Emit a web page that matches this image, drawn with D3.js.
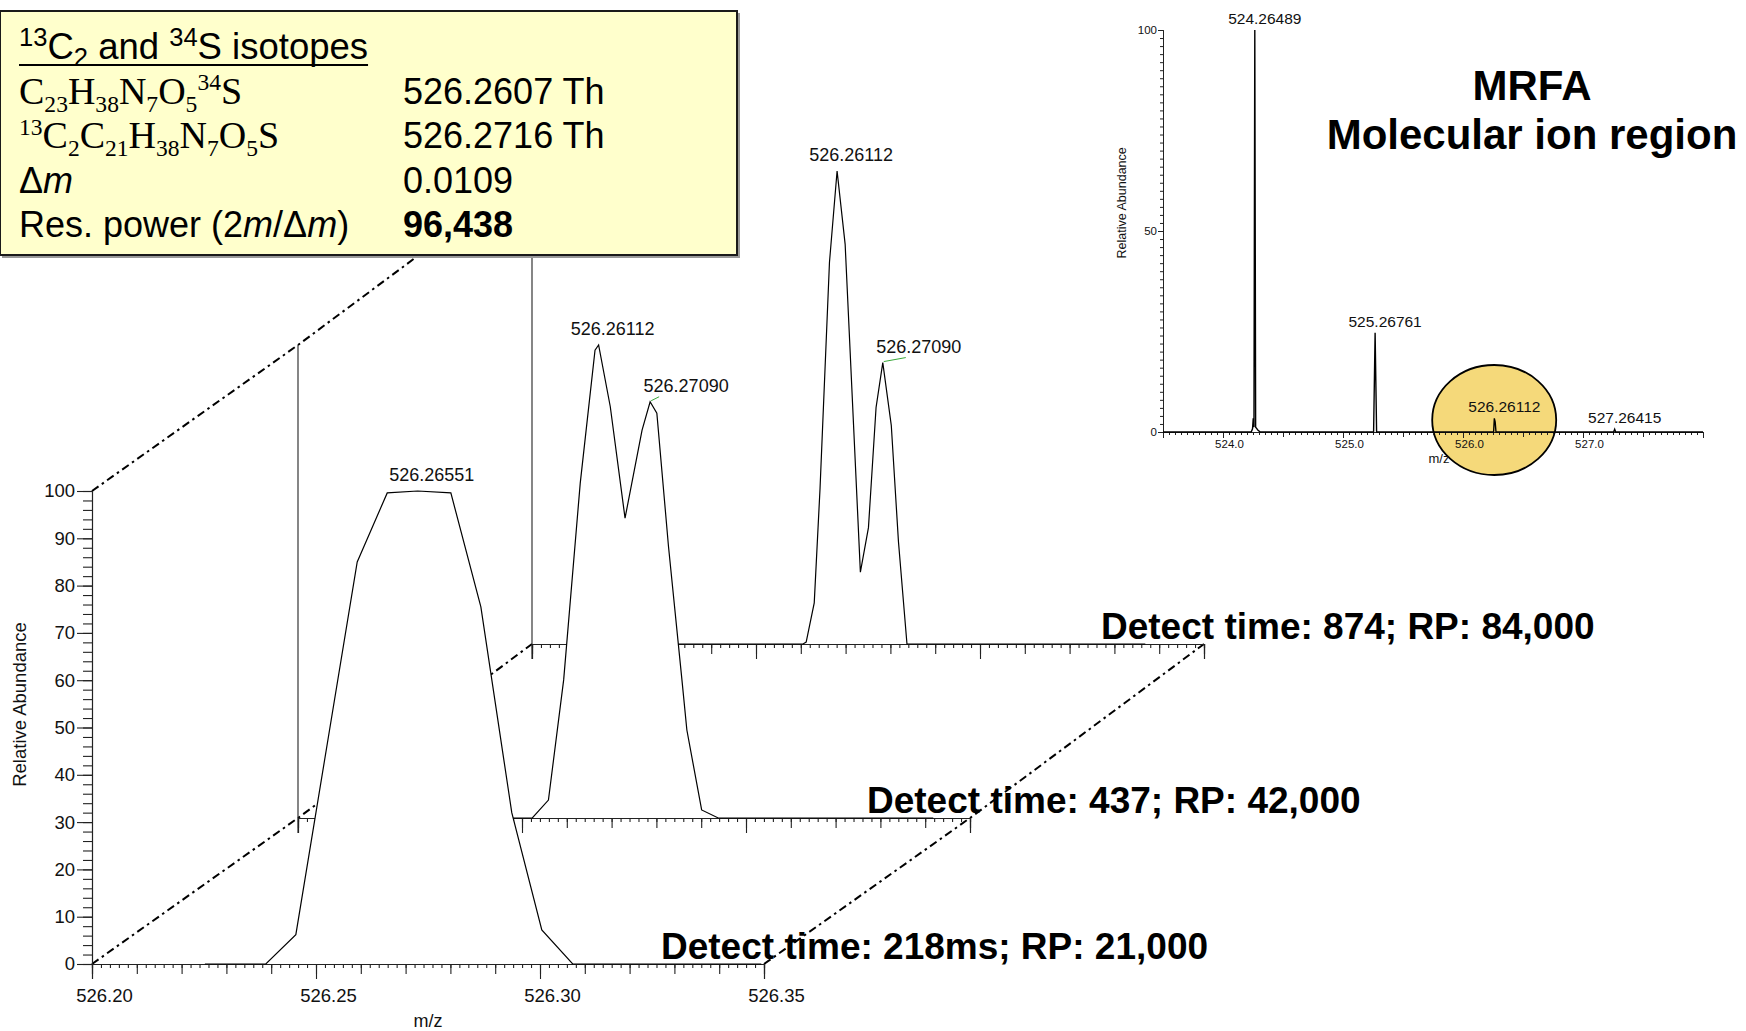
<!DOCTYPE html>
<html>
<head>
<meta charset="utf-8">
<script src="https://cdn.jsdelivr.net/npm/d3@7"></script>
<style>
  body { margin: 0; background: #fff; }
  svg text { font-family: "Liberation Sans", Arial, sans-serif; }
</style>
</head>
<body>
<svg id="chart" width="1746" height="1031"></svg>
<script>
'use strict';

// profile spectra, one per detect time (m/z, relative abundance)
var frontMz  = [526.2252, 526.2388, 526.2455, 526.2592, 526.2659, 526.2727, 526.2801, 526.2868, 526.2937, 526.3004, 526.3073, 526.3494];
var frontInt = [0, 0, 6.2, 85, 99.6, 100, 99.6, 75.5, 32, 7.2, 0, 0];

var midMz  = [526.2252, 526.2523, 526.2559, 526.2593, 526.2630, 526.2663, 526.2671, 526.2697, 526.2730, 526.2768, 526.2786, 526.2801, 526.2827, 526.2857, 526.2868, 526.2901, 526.2938, 526.3418];
var midInt = [0, 0, 3.8, 29.2, 70.8, 98.9, 100, 87, 63.4, 82, 88, 85.6, 57.4, 29.2, 18.6, 1.7, 0, 0];

var backMz  = [526.2252, 526.2605, 526.2612, 526.2630, 526.2643, 526.2664, 526.2681, 526.2699, 526.2733, 526.2751, 526.2768, 526.2783, 526.2802, 526.2818, 526.2837, 526.3369];
var backInt = [0, 0, 0.4, 8.7, 33, 80.7, 100, 84.5, 15.2, 24.6, 50, 59.5, 46.2, 21.6, 0, 0];

// peak labels: [m/z of apex, abundance of apex, text, has leader]
var frontLabels = [[526.2727, 100, "526.26551", false]];
var midLabels   = [[526.2671, 100, "526.26112", false], [526.2786, 88, "526.27090", true]];
var backLabels  = [[526.2681, 100, "526.26112", false], [526.2783, 59.5, "526.27090", true]];

var layerTitles = ["Detect time: 218ms; RP: 21,000", "Detect time: 437; RP: 42,000", "Detect time: 874; RP: 84,000"];
var xTickLabels = ["526.20", "526.25", "526.30", "526.35"];
var yTickLabels = [0, 10, 20, 30, 40, 50, 60, 70, 80, 90, 100];

// full scan inset
var insetMz  = [523.50, 524.235, 524.246, 524.252, 524.258, 524.265, 524.272, 524.28, 524.29, 524.31, 525.255, 525.2676, 525.28, 526.255, 526.2611, 526.268, 526.275, 527.255, 527.264, 527.272, 528.00];
var insetInt = [0, 0, 0.8, 3.4, 1.2, 100, 1.2, 0.9, 0.5, 0, 0, 24.7, 0, 0, 3.4, 2.5, 0, 0, 0.7, 0, 0];
var insetLabels = [[524.265, 100, "524.26489"], [525.2676, 24.7, "525.26761"], [526.2611, 3.4, "526.26112"], [527.264, 0.7, "527.26415"]];
var insetXTicks = [524, 525, 526, 527];
var insetYTicks = [0, 50, 100];

// table in the yellow box
var boxTitle = [{t: "13", sup: true}, {t: "C"}, {t: "2", sub: true}, {t: " and "}, {t: "34", sup: true}, {t: "S isotopes"}];
var boxNames = [
  [{t: "C"}, {t: "23", sub: true}, {t: "H"}, {t: "38", sub: true}, {t: "N"}, {t: "7", sub: true}, {t: "O"}, {t: "5", sub: true}, {t: "34", sup: true}, {t: "S"}],
  [{t: "13", sup: true}, {t: "C"}, {t: "2", sub: true}, {t: "C"}, {t: "21", sub: true}, {t: "H"}, {t: "38", sub: true}, {t: "N"}, {t: "7", sub: true}, {t: "O"}, {t: "5", sub: true}, {t: "S"}],
  [{t: "\u0394"}, {t: "m", i: true}],
  [{t: "Res. power (2"}, {t: "m", i: true}, {t: "/\u0394"}, {t: "m", i: true}, {t: ")"}]
];
var boxValues = [[{t: "526.2607 Th"}], [{t: "526.2716 Th"}], [{t: "0.0109"}], [{t: "96,438", b: true}]];

var svg = d3.select("#chart");

var x = d3.scaleLinear().domain([526.20, 526.35]).range([0, 672]);
var y = d3.scaleLinear().domain([0, 100]).range([0, -473]);

// where each stacked spectrum sits on the page
var layers = [
  {ox: 92,  oy: 964, mz: frontMz, ab: frontInt, labels: frontLabels, lead: 8,  front: true},
  {ox: 298, oy: 818, mz: midMz,   ab: midInt,   labels: midLabels,   lead: 8},
  {ox: 532, oy: 644, mz: backMz,  ab: backInt,  labels: backLabels,  lead: 22}
];

// dash-dot perspective lines through the corners
var corners = [[x.domain()[0], 0], [x.domain()[0], 100], [x.domain()[1], 0]];
corners.forEach(function(c) {
  var pts = layers.map(function(l) { return [l.ox + x(c[0]), l.oy + y(c[1])]; });
  svg.append("path")
    .attr("d", d3.line()(pts))
    .attr("fill", "none").attr("stroke", "#000").attr("stroke-width", 2)
    .attr("stroke-dasharray", "8,4,2.5,4");
});

function styleAxis(g) {
  g.selectAll("path,line").attr("stroke", "#222").attr("stroke-width", 1.1);
}

// draw back to front so the white fills hide what is behind
layers.slice().reverse().forEach(function(l) {
  var g = svg.append("g").attr("transform", "translate(" + l.ox + "," + l.oy + ")");

  g.append("g").call(d3.axisBottom(x).ticks(75).tickSize(4).tickFormat("")).call(styleAxis);
  g.append("g").call(d3.axisBottom(x).ticks(15).tickSize(10).tickFormat("")).call(styleAxis);
  var xa = g.append("g").call(d3.axisBottom(x).tickValues(xTickLabels.map(Number)).tickSize(15)
      .tickFormat(l.front ? function(d) { return d.toFixed(2); } : ""));
  xa.call(styleAxis);
  xa.selectAll("text").attr("dx", 12).attr("dy", "1.1em").style("font-size", "18.5px").attr("fill", "#111");

  if (l.front) {
    g.append("g").call(d3.axisLeft(y).ticks(50).tickSize(9).tickFormat("")).call(styleAxis);
    var ya = g.append("g").call(d3.axisLeft(y).tickValues(yTickLabels).tickSize(15));
    ya.call(styleAxis);
    ya.selectAll("text").attr("x", -17).style("font-size", "18.5px").attr("fill", "#111");
  } else {
    g.append("line").attr("x1", 0).attr("x2", 0).attr("y1", y(100)).attr("y2", 15)
      .attr("stroke", "#222").attr("stroke-width", 1.1);
  }

  var pts = l.mz.map(function(m, i) { return [m, l.ab[i]]; });
  g.append("path").datum(pts)
    .attr("d", d3.area().x(function(d) { return x(d[0]); }).y0(y(0)).y1(function(d) { return y(d[1]); }))
    .attr("fill", "#fff");
  g.append("path").datum(pts)
    .attr("d", d3.line().x(function(d) { return x(d[0]); }).y(function(d) { return y(d[1]); }))
    .attr("fill", "none").attr("stroke", "#000").attr("stroke-width", 1.2);

  l.labels.forEach(function(p) {
    var px = x(p[0]), py = y(p[1]);
    if (p[3]) {
      g.append("line").attr("x1", px + 1).attr("y1", py - 1).attr("x2", px + 1 + l.lead).attr("y2", py - 5)
        .attr("stroke", "#3aa83a").attr("stroke-width", 1);
    }
    g.append("text").attr("x", px + (p[3] ? 36 : 14)).attr("y", py - 10)
      .attr("text-anchor", "middle").style("font-size", "18px").attr("fill", "#111").text(p[2]);
  });

  if (l.front) {
    g.append("text").attr("x", x(526.275)).attr("y", 63).attr("text-anchor", "middle")
      .style("font-size", "18px").attr("fill", "#111").text("m/z");
    g.append("text").attr("transform", "translate(-66," + (y(50) - 23) + ") rotate(-90)")
      .attr("text-anchor", "middle").style("font-size", "18.5px").attr("fill", "#111").text("Relative Abundance");
  }
});

layers.forEach(function(l, i) {
  svg.append("text").attr("x", l.ox + 569).attr("y", l.oy - 5)
    .style("font-size", "37px").style("font-weight", "bold").text(layerTitles[i]);
});

// yellow table box
function richText(g, px, py, segs, size, family, small) {
  var t = g.append("text").attr("x", px).attr("y", py).style("font-size", size + "px");
  if (family) t.style("font-family", family);
  var shift = 0;
  segs.forEach(function(s) {
    var target = s.sub ? size * 0.2 : s.sup ? -size * 0.36 : 0;
    var ts = t.append("tspan").attr("dy", target - shift).text(s.t);
    shift = target;
    if (s.sub || s.sup) ts.style("font-size", (size * (small || 0.62)) + "px");
    if (s.i) ts.style("font-style", "italic");
    if (s.b) ts.style("font-weight", "bold");
  });
  return t;
}

var box = svg.append("g");
box.append("rect").attr("x", 2).attr("y", 13).attr("width", 738).attr("height", 245).attr("fill", "#999");
box.append("rect").attr("x", 0).attr("y", 11).attr("width", 737).attr("height", 244)
  .attr("fill", "#ffffcc").attr("stroke", "#1a1a1a").attr("stroke-width", 2);

var title = richText(box, 19, 59, boxTitle, 36.5, null, 0.7);
var tw = title.node().getComputedTextLength();
box.append("line").attr("x1", 19).attr("x2", 19 + tw).attr("y1", 65).attr("y2", 65)
  .attr("stroke", "#000").attr("stroke-width", 2.2);

boxNames.forEach(function(segs, i) {
  var serif = i < 2 ? "'Liberation Serif', 'Times New Roman', serif" : null;
  richText(box, 19, 104 + i * 44.3, segs, serif ? 38 : 36, serif);
  richText(box, 403, 104 + i * 44.3, boxValues[i], 36);
});

// inset: full scan of the molecular ion region
var ix = d3.scaleLinear().domain([523.5, 528.0]).range([1163, 1703]);
var iy = d3.scaleLinear().domain([0, 100]).range([432, 30]);
var inset = svg.append("g");

inset.append("ellipse").attr("cx", ix(526.26)).attr("cy", 420).attr("rx", 62).attr("ry", 55)
  .attr("fill", "#f5d97a").attr("stroke", "#000").attr("stroke-width", 1.8);

function styleInset(g) {
  g.selectAll("path,line").attr("stroke", "#222").attr("stroke-width", 1);
  g.selectAll("text").style("font-size", "11.5px").attr("fill", "#111");
}
inset.append("g").attr("transform", "translate(0," + iy(0) + ")")
  .call(d3.axisBottom(ix).ticks(90).tickSize(3).tickFormat("")).call(styleInset);
inset.append("g").attr("transform", "translate(0," + iy(0) + ")")
  .call(d3.axisBottom(ix).ticks(9).tickSize(5).tickFormat("")).call(styleInset);
var ixa = inset.append("g").attr("transform", "translate(0," + iy(0) + ")")
  .call(d3.axisBottom(ix).tickValues(insetXTicks).tickSize(6).tickFormat(d3.format(".1f")));
ixa.call(styleInset);
ixa.selectAll("text").attr("dx", 6).attr("dy", "0.6em");
inset.append("g").attr("transform", "translate(" + ix.range()[0] + ",0)")
  .call(d3.axisLeft(iy).ticks(50).tickSize(3).tickFormat("")).call(styleInset);
var iya = inset.append("g").attr("transform", "translate(" + ix.range()[0] + ",0)")
  .call(d3.axisLeft(iy).tickValues(insetYTicks).tickSize(5));
iya.call(styleInset);
iya.selectAll("text").attr("x", -6);

var ipts = insetMz.map(function(m, i) { return [m, insetInt[i]]; });
inset.append("path").datum(ipts)
  .attr("d", d3.line().x(function(d) { return ix(d[0]); }).y(function(d) { return iy(d[1]); }))
  .attr("fill", "none").attr("stroke", "#000").attr("stroke-width", 1.4);

insetLabels.forEach(function(p) {
  inset.append("text").attr("x", ix(p[0]) + 10).attr("y", iy(p[1]) - 6).attr("text-anchor", "middle")
    .style("font-size", "15.5px").attr("fill", "#111").text(p[2]);
});
inset.append("text").attr("x", 1439).attr("y", 463).attr("text-anchor", "middle")
  .style("font-size", "13px").attr("fill", "#111").text("m/z");
inset.append("text").attr("transform", "translate(1126," + iy(57) + ") rotate(-90)")
  .attr("text-anchor", "middle").style("font-size", "12.5px").attr("fill", "#111").text("Relative Abundance");

svg.append("text").attr("x", 1532).attr("y", 100).attr("text-anchor", "middle")
  .style("font-size", "42px").style("font-weight", "bold").text("MRFA");
svg.append("text").attr("x", 1532).attr("y", 149).attr("text-anchor", "middle")
  .style("font-size", "42px").style("font-weight", "bold").text("Molecular ion region");
</script>
</body>
</html>
